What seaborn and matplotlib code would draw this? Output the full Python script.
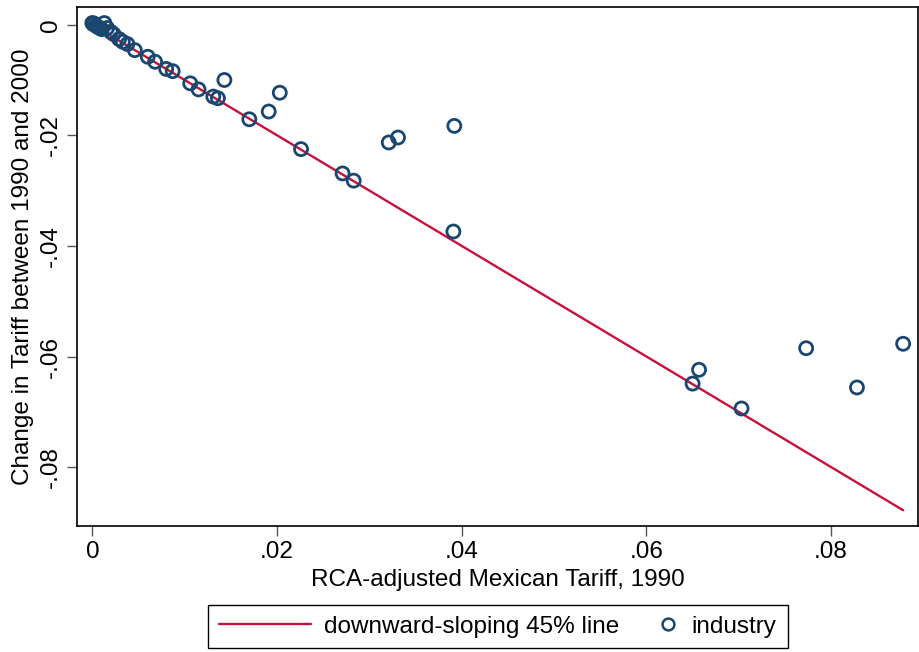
import numpy as np
import pandas as pd
import matplotlib
matplotlib.use("Agg")
import matplotlib.pyplot as plt
import seaborn as sns
from matplotlib.lines import Line2D
from matplotlib.legend_handler import HandlerBase

# ---- data ----
tariff_1990 = [0.0000, 0.0001, 0.0002, 0.0004, 0.0006, 0.0008, 0.0010, 0.0013, 0.0016,
               0.0020, 0.0023, 0.0029, 0.0033, 0.0038, 0.0046, 0.0060, 0.0068, 0.0080,
               0.0087, 0.0106, 0.0115, 0.0131, 0.0136, 0.0143, 0.0170, 0.0191, 0.0203,
               0.0226, 0.0271, 0.0283, 0.0321, 0.0331, 0.0392, 0.0391, 0.0650, 0.0657,
               0.0703, 0.0773, 0.0828, 0.0878]
tariff_change = [0.0003, 0.0001, 0.0002, -0.0002, -0.0004, -0.0006, -0.0008, 0.0003, -0.0006,
                 -0.0013, -0.0017, -0.0026, -0.0031, -0.0035, -0.0046, -0.0058, -0.0067, -0.0080,
                 -0.0084, -0.0106, -0.0117, -0.0130, -0.0133, -0.0100, -0.0171, -0.0157, -0.0123,
                 -0.0225, -0.0269, -0.0282, -0.0213, -0.0204, -0.0183, -0.0374, -0.0649, -0.0624,
                 -0.0694, -0.0585, -0.0656, -0.0577]
x_ticks = [0, 0.02, 0.04, 0.06, 0.08]
x_tick_labels = ["0", ".02", ".04", ".06", ".08"]
y_ticks = [0, -0.02, -0.04, -0.06, -0.08]
y_tick_labels = ["0", "-.02", "-.04", "-.06", "-.08"]
x_label = "RCA-adjusted Mexican Tariff, 1990"
y_label = "Change in Tariff between 1990 and 2000"
line_label = "downward-sloping 45% line"
point_label = "industry"

df = pd.DataFrame({"x": tariff_1990, "y": tariff_change})
line_df = pd.DataFrame({"x": [0.0, max(tariff_1990)]})
line_df["y"] = -line_df["x"]

# ---- style ----
sns.set_style("white")
plt.rcParams["font.family"] = ["Liberation Sans", "DejaVu Sans"]
plt.rcParams["text.color"] = "black"
plt.rcParams["axes.labelcolor"] = "black"
plt.rcParams["xtick.color"] = "black"
plt.rcParams["ytick.color"] = "black"
FS = 17.5
navy = "#1a476f"
red = "#c8103c"

fig = plt.figure(figsize=(9.19, 6.52), dpi=100)
ax = fig.add_axes([77 / 919, 1 - 526 / 652, (918 - 77) / 919, (526 - 7) / 652])

sns.lineplot(data=line_df, x="x", y="y", ax=ax, color=red, lw=1.7, zorder=2)
sns.scatterplot(data=df, x="x", y="y", ax=ax, s=88, facecolor="none",
                edgecolor=navy, linewidth=2.0, zorder=3)

ax.set_xlim(-0.00166, 0.08941)
ax.set_ylim(-0.09065, 0.0032)
ax.set_xticks(x_ticks)
ax.set_xticklabels(x_tick_labels, fontsize=FS)
ax.set_yticks(y_ticks)
ax.set_yticklabels(y_tick_labels, fontsize=FS, rotation=90, va="center")
ax.tick_params(axis="both", direction="out", length=7, width=1.0,
               bottom=True, left=True, pad=4)
ax.tick_params(axis="both", color="#555555", labelcolor="black")
for sp in ax.spines.values():
    sp.set_color("black")
    sp.set_linewidth(1.2)
ax.set_xlabel(x_label, fontsize=FS, labelpad=4)
ax.set_ylabel(y_label, fontsize=FS, labelpad=4)


class RightMarkerHandler(HandlerBase):
    def create_artists(self, legend, orig_handle, xdescent, ydescent, width, height,
                       fontsize, trans):
        m = Line2D([-xdescent + width - 8.0], [(height - ydescent) / 2.0])
        self.update_prop(m, orig_handle, legend)
        m.set_transform(trans)
        return [m]


h_line = Line2D([], [], color=red, lw=1.7)
h_pt = Line2D([], [], ls="none", marker="o", markersize=8.5, markerfacecolor="none",
              markeredgecolor=navy, markeredgewidth=1.8)
leg = fig.legend([h_line, h_pt], [line_label, point_label], loc="center",
                 bbox_to_anchor=(0.5419, 0.0391), ncol=2, fontsize=FS,
                 frameon=True, fancybox=False, edgecolor="black", framealpha=1,
                 handlelength=3.79, handletextpad=0.53, columnspacing=-1.35,
                 borderpad=0.45, numpoints=1,
                 handler_map={h_pt: RightMarkerHandler()})
leg.get_frame().set_linewidth(1.0)
for t in leg.get_texts():
    t.set_color("black")

fig.savefig("out.png", dpi=100)
